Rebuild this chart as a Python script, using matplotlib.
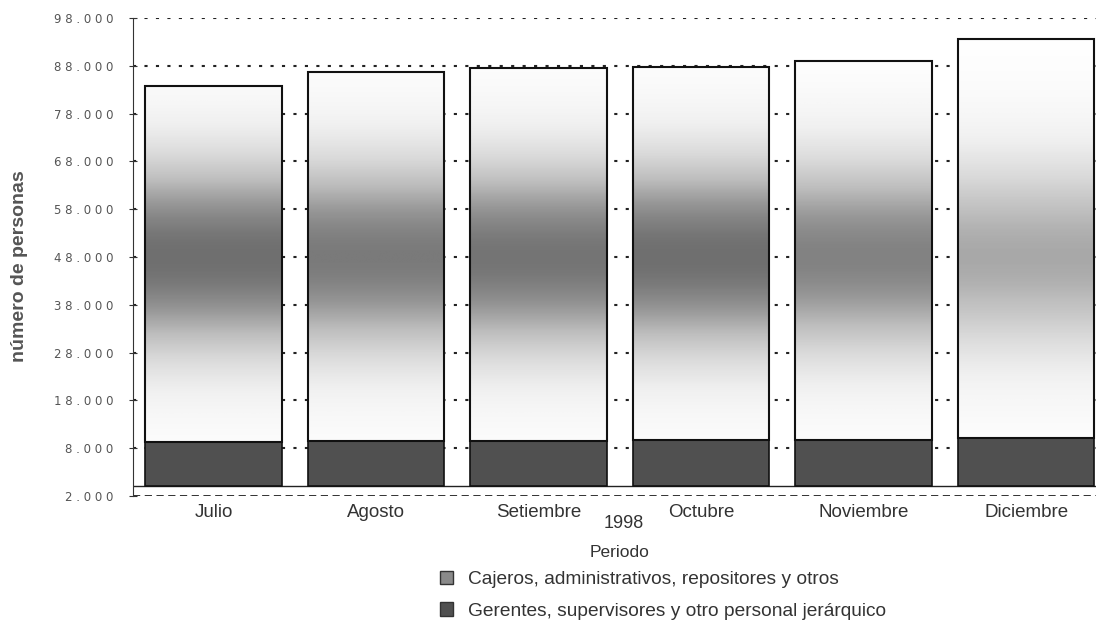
import numpy as np
import matplotlib
matplotlib.use('Agg')
import matplotlib.pyplot as plt
from matplotlib.patches import Patch

# Datos (número de personas, 1998)
meses = ['Julio', 'Agosto', 'Setiembre', 'Octubre', 'Noviembre', 'Diciembre']
gerentes = [9250, 9450, 9500, 9650, 9650, 10100]
total = [83700, 86600, 87500, 87700, 89000, 93600]
cajeros = [t - g for t, g in zip(total, gerentes)]

y_ticks = [-2000, 8000, 18000, 28000, 38000, 48000, 58000, 68000, 78000, 88000, 98000]
y_labels = ['2.000', '8.000', '18.000', '28.000', '38.000', '48.000',
            '58.000', '68.000', '78.000', '88.000', '98.000']

# intensidad del sombreado de cada barra (aspecto escaneado)
sombra = [0.64, 0.60, 0.62, 0.64, 0.57, 0.44]

plt.rcParams['font.family'] = ['Liberation Sans', 'DejaVu Sans']

fig = plt.figure(figsize=(10.96, 6.26), dpi=100)
ax = fig.add_axes([133 / 1096, 1 - 496 / 626, 1 - 133 / 1096, 478 / 626])

x = np.arange(len(meses))
ancho = 0.84

# Grilla punteada
for yt in y_ticks[1:]:
    ax.axhline(yt, color='#222222', lw=1.5, ls=(0, (1.5, 4)), zorder=1)
ax.axhline(y_ticks[0], color='#222222', lw=1.3, ls=(0, (4, 2.5)), zorder=1)
ax.axhline(0, color='#222222', lw=1.0, zorder=1)

b1 = ax.bar(x, gerentes, ancho, color='#505050', edgecolor='#111111', lw=1.2, zorder=3)
b2 = ax.bar(x, cajeros, ancho, bottom=gerentes, color='white', edgecolor='none', zorder=2)

# sombreado gris difuso dentro de las barras de cajeros
for i, p in enumerate(b2):
    y0 = gerentes[i]
    y1 = total[i]
    yy = np.linspace(y0, y1, 300)
    d = sombra[i] * np.exp(-((yy - 48000) / 22000) ** 2)
    im = ax.imshow(d[:, None], cmap='Greys', vmin=0, vmax=1, origin='lower',
                   extent=[p.get_x(), p.get_x() + p.get_width(), y0, y1],
                   aspect='auto', zorder=2.5, interpolation='bilinear')
    im.set_clip_path(p)
    ax.bar(x[i], cajeros[i], ancho, bottom=y0, fill=False, edgecolor='#111111', lw=1.5, zorder=4)

ax.set_xlim(-0.495, 5.43)
ax.set_ylim(-2000, 98000)
ax.set_yticks(y_ticks)
# etiquetas espaciadas como en el original
ax.set_yticklabels([' '.join(s) for s in y_labels], fontsize=8.5,
                   color='#555555', family='DejaVu Sans')
ax.set_xticks(x)
ax.set_xticklabels(meses, fontsize=13.5, color='#333333')
ax.tick_params(axis='x', length=0, pad=6)
ax.tick_params(axis='y', direction='inout', length=6, color='#333333', pad=11)

for s in ['top', 'right', 'bottom']:
    ax.spines[s].set_visible(False)
ax.spines['left'].set_color('#333333')

ax.text(0.51, -0.058, '1998', transform=ax.transAxes, ha='center', va='center',
        fontsize=13, color='#333333')
ax.text(0.505, -0.118, 'Periodo', transform=ax.transAxes, ha='center', va='center',
        fontsize=12.5, color='#333333')

fig.text(20 / 1096, 1 - 266 / 626, 'número de personas', rotation=90,
         ha='center', va='center', fontsize=14, fontweight='bold', color='#555555')

handles = [Patch(facecolor='#8a8a8a', edgecolor='#333333'),
           Patch(facecolor='#505050', edgecolor='#333333')]
fig.legend(handles,
           ['Cajeros, administrativos, repositores y otros',
            'Gerentes, supervisores y otro personal jerárquico'],
           loc='upper left', bbox_to_anchor=(440 / 1096, 1 - 571 / 626),
           frameon=False, fontsize=13.8, handlelength=0.7, handleheight=0.7,
           handletextpad=0.75, labelspacing=0.72, borderaxespad=0, borderpad=0,
           labelcolor='#333333')

fig.savefig('out.png', dpi=100)
